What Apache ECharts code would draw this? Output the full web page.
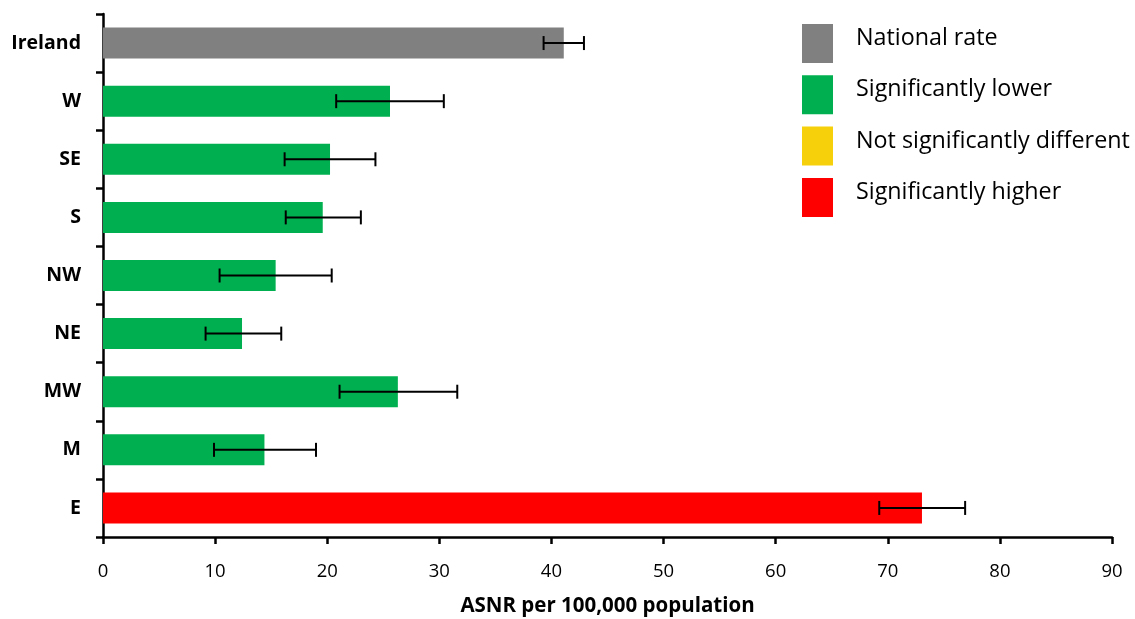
<!DOCTYPE html>
<html><head><meta charset="utf-8">
<script src="https://cdn.jsdelivr.net/npm/echarts@6/dist/echarts.min.js"></script>
<style>html,body{margin:0;padding:0;background:#fff}#c{width:1135px;height:619px}</style>
</head><body><div id="c"></div>
<script>
const categories = ['Ireland','W','SE','S','NW','NE','MW','M','E'];
const rates      = [41.1, 25.6, 20.25, 19.6, 15.4, 12.4, 26.3, 14.4, 73.05];
const ciLow      = [39.3, 20.8, 16.2, 16.3, 10.4, 9.15, 21.1, 9.9, 69.24];
const ciHigh     = [42.9, 30.4, 24.3, 23.0, 20.4, 15.9, 31.6, 19.0, 76.9];
const status     = ['national','lower','lower','lower','lower','lower','lower','lower','higher'];
const groups = [
  {key:'national', name:'National rate', color:'#808080'},
  {key:'lower', name:'Significantly lower', color:'#00B050'},
  {key:'nsd', name:'Not significantly different', color:'#F6D10B'},
  {key:'higher', name:'Significantly higher', color:'#FF0000'}
];
const xTicks = {min:0, max:90, interval:10};
const FONT = '"Open Sans", Lato, sans-serif';

const chart = echarts.init(document.getElementById('c'), null, {renderer:'canvas'});
const barSeries = groups.map(g => ({
  name: g.name, type:'bar', stack:'s', barWidth: 31,
  itemStyle:{color:g.color},
  data: rates.map((v,i)=> status[i]===g.key ? v : '-'),
  silent:true
}));
const errSeries = {
  type:'custom', silent:true, z:10,
  data: categories.map((c,i)=>[i, ciLow[i], ciHigh[i]]),
  renderItem: function(params, api){
    const idx = api.value(0);
    const p1 = api.coord([api.value(1), idx]);
    const p2 = api.coord([api.value(2), idx]);
    const h = 7;
    const st = {stroke:'#000', lineWidth:2};
    return {type:'group', children:[
      {type:'line', shape:{x1:p1[0],y1:p1[1],x2:p2[0],y2:p2[1]}, style:st},
      {type:'line', shape:{x1:p1[0],y1:p1[1]-h,x2:p1[0],y2:p1[1]+h}, style:st},
      {type:'line', shape:{x1:p2[0],y1:p2[1]-h,x2:p2[0],y2:p2[1]+h}, style:st}
    ]};
  }
};
chart.setOption({
  animation:false,
  textStyle:{fontFamily:FONT},
  grid:{left:103, right:23, top:14, bottom:82, containLabel:false, outerBoundsMode:'none'},
  legend:{
    orient:'vertical', left:802, top:24, padding:0, itemWidth:31, itemHeight:39, itemGap:12.3,
    icon:'rect', selectedMode:false,
    data: groups.map(g=>g.name),
    formatter: n => '{t|' + n + '}\n{s| }',
    textStyle:{color:'#000', fontFamily:FONT, padding:[0,0,0,18],
      rich:{t:{fontSize:23.3, lineHeight:30, color:'#000', fontFamily:FONT},
            s:{fontSize:2, lineHeight:10}}}
  },
  xAxis:{
    type:'value', min:xTicks.min, max:xTicks.max, interval:xTicks.interval,
    name:'ASNR per 100,000 population', nameLocation:'middle', nameGap:59,
    nameTextStyle:{fontSize:20.5, fontWeight:'bold', color:'#000', fontFamily:FONT},
    axisLine:{show:true, lineStyle:{color:'#000', width:2.5}},
    axisTick:{show:true, length:7, lineStyle:{color:'#000', width:2.5}},
    axisLabel:{fontSize:18.5, color:'#000', margin:25, fontFamily:FONT},
    splitLine:{show:false}
  },
  yAxis:{
    type:'category', data:categories, inverse:true,
    axisLine:{show:true, lineStyle:{color:'#000', width:2.5}},
    axisTick:{show:true, length:7, lineStyle:{color:'#000', width:2.5}},
    axisLabel:{fontSize:19.5, fontWeight:'bold', color:'#000', margin:22, fontFamily:FONT}
  },
  series:[...barSeries, errSeries]
});
</script></body></html>
